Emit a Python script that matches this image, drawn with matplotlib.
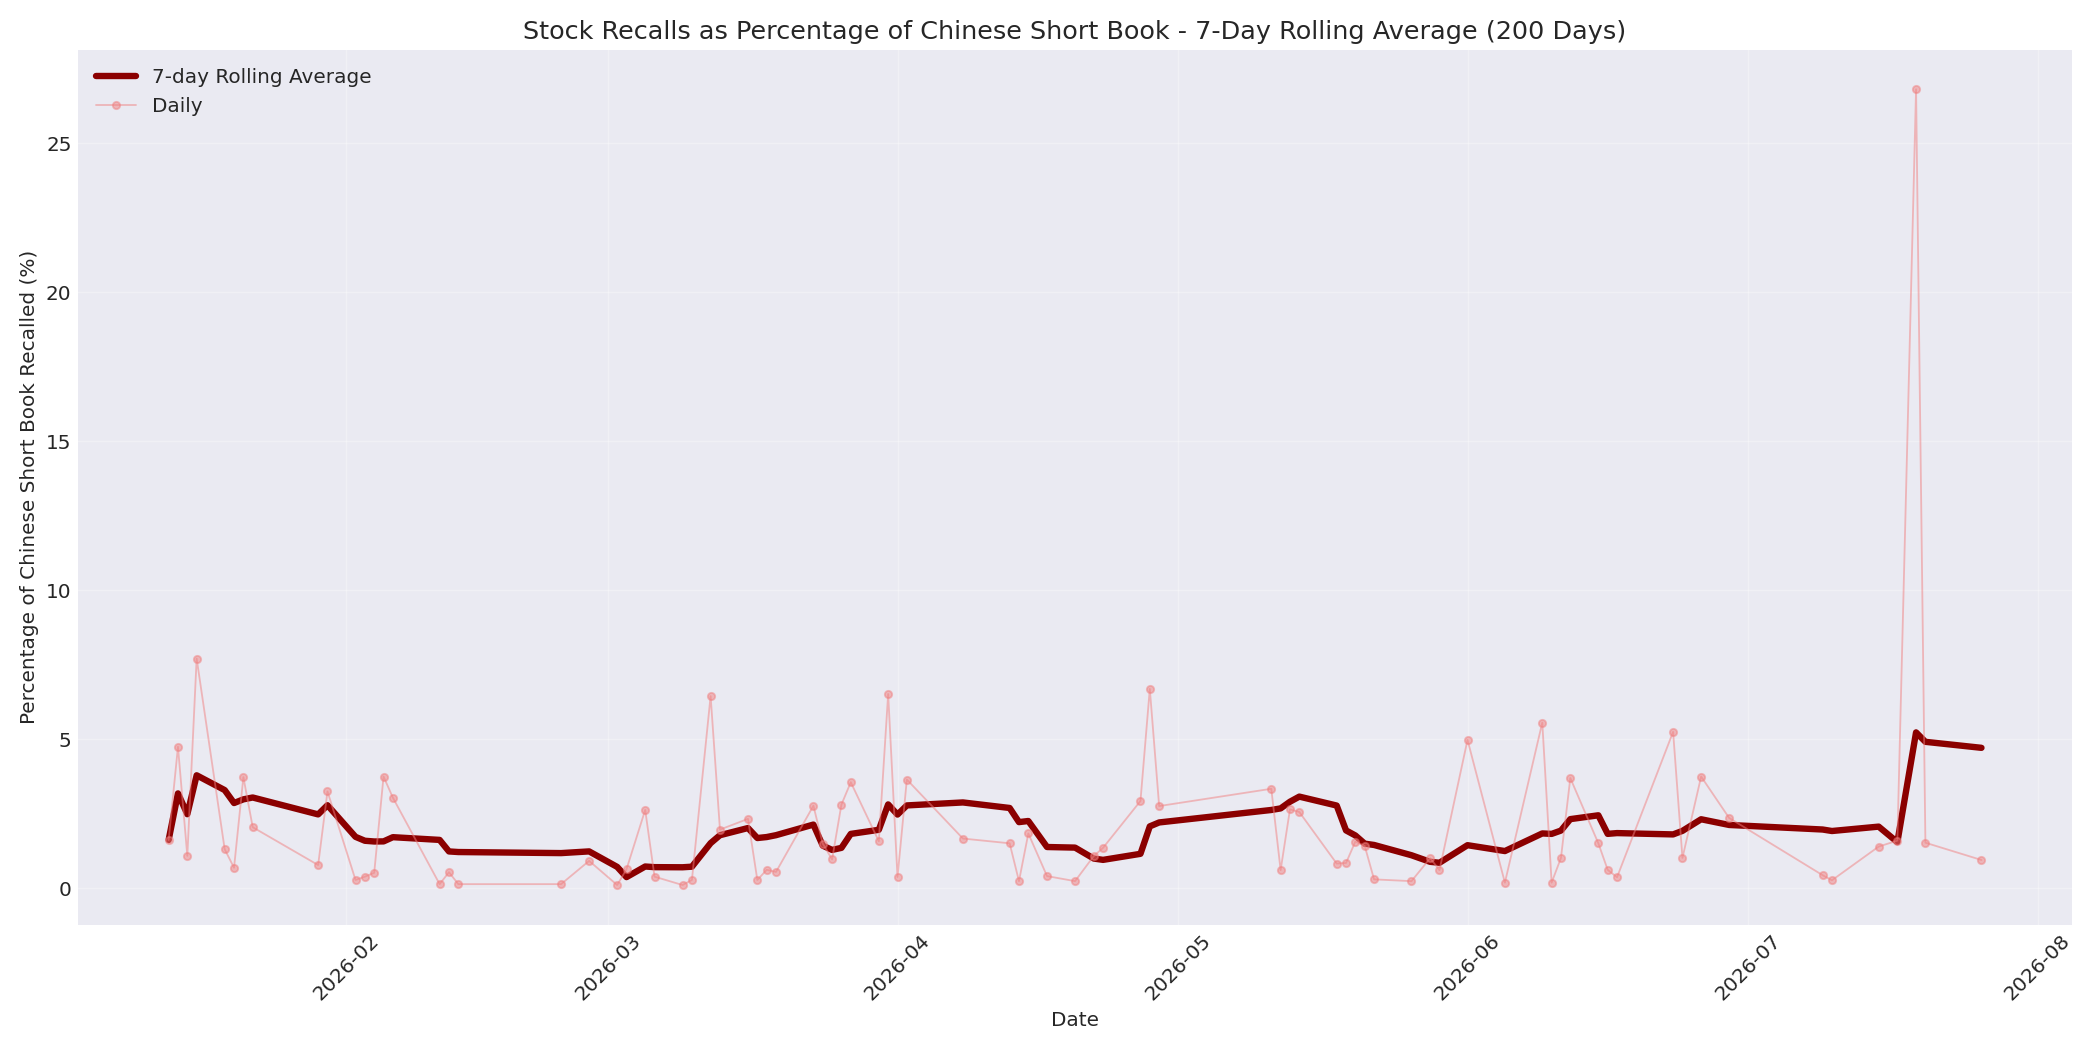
import numpy as np
import pandas as pd
import matplotlib
matplotlib.use('Agg')
import matplotlib.pyplot as plt
import matplotlib.dates as mdates

plt.style.use('seaborn-v0_8-darkgrid')
plt.rcParams['font.family'] = ['DejaVu Sans']

dates = ['2026-01-13', '2026-01-14', '2026-01-15', '2026-01-16', '2026-01-19', '2026-01-20',
         '2026-01-21', '2026-01-22', '2026-01-29', '2026-01-30', '2026-02-02', '2026-02-03',
         '2026-02-04', '2026-02-05', '2026-02-06', '2026-02-11', '2026-02-12', '2026-02-13',
         '2026-02-24', '2026-02-27', '2026-03-02', '2026-03-03', '2026-03-05', '2026-03-06',
         '2026-03-09', '2026-03-10', '2026-03-12', '2026-03-13', '2026-03-16', '2026-03-17',
         '2026-03-18', '2026-03-19', '2026-03-23', '2026-03-24', '2026-03-25', '2026-03-26',
         '2026-03-27', '2026-03-30', '2026-03-31', '2026-04-01', '2026-04-02', '2026-04-08',
         '2026-04-13', '2026-04-14', '2026-04-15', '2026-04-17', '2026-04-20', '2026-04-22',
         '2026-04-23', '2026-04-27', '2026-04-28', '2026-04-29', '2026-05-11', '2026-05-12',
         '2026-05-13', '2026-05-14', '2026-05-18', '2026-05-19', '2026-05-20', '2026-05-21',
         '2026-05-22', '2026-05-26', '2026-05-28', '2026-05-29', '2026-06-01', '2026-06-05',
         '2026-06-09', '2026-06-10', '2026-06-11', '2026-06-12', '2026-06-15', '2026-06-16',
         '2026-06-17', '2026-06-23', '2026-06-24', '2026-06-26', '2026-06-29', '2026-07-09',
         '2026-07-10', '2026-07-15', '2026-07-17', '2026-07-19', '2026-07-20', '2026-07-26']
daily = [1.61, 4.74, 1.08, 7.70, 1.30, 0.68,
         3.72, 2.04, 0.77, 3.24, 0.27, 0.38,
         0.51, 3.74, 3.03, 0.13, 0.53, 0.13,
         0.13, 0.91, 0.10, 0.63, 2.62, 0.38,
         0.10, 0.27, 6.44, 1.96, 2.32, 0.27,
         0.61, 0.54, 2.76, 1.49, 0.96, 2.80,
         3.55, 1.57, 6.51, 0.37, 3.64, 1.66,
         1.50, 0.23, 1.83, 0.40, 0.23, 1.07,
         1.35, 2.92, 6.68, 2.75, 3.33, 0.60,
         2.64, 2.55, 0.82, 0.84, 1.56, 1.41,
         0.29, 0.23, 1.00, 0.60, 4.97, 0.18,
         5.55, 0.18, 1.01, 3.69, 1.50, 0.61,
         0.36, 5.24, 1.01, 3.74, 2.35, 0.43,
         0.26, 1.39, 1.59, 26.8, 1.52, 0.94]

df = pd.DataFrame({'date': pd.to_datetime(dates), 'pct': daily})
df['rolling'] = df['pct'].rolling(7, min_periods=1).mean()

fig, ax = plt.subplots(figsize=(16, 8), dpi=131.25)
ax.plot(df['date'], df['rolling'], color='darkred', linewidth=3.5, label='7-day Rolling Average')
ax.plot(df['date'], df['pct'], color='lightcoral', marker='o', markersize=4, linewidth=1,
        alpha=0.5, label='Daily')

ax.set_title('Stock Recalls as Percentage of Chinese Short Book - 7-Day Rolling Average (200 Days)', fontsize=14)
ax.set_xlabel('Date', fontsize=11)
ax.set_ylabel('Percentage of Chinese Short Book Recalled (%)', fontsize=11)
ax.xaxis.set_major_locator(mdates.MonthLocator())
ax.xaxis.set_major_formatter(mdates.DateFormatter('%Y-%m'))
plt.setp(ax.get_xticklabels(), rotation=45)
ax.tick_params(labelsize=11)
ax.legend(loc='upper left', fontsize=11)
ax.grid(True, alpha=0.3)

fig.tight_layout()
fig.savefig('out.png')
